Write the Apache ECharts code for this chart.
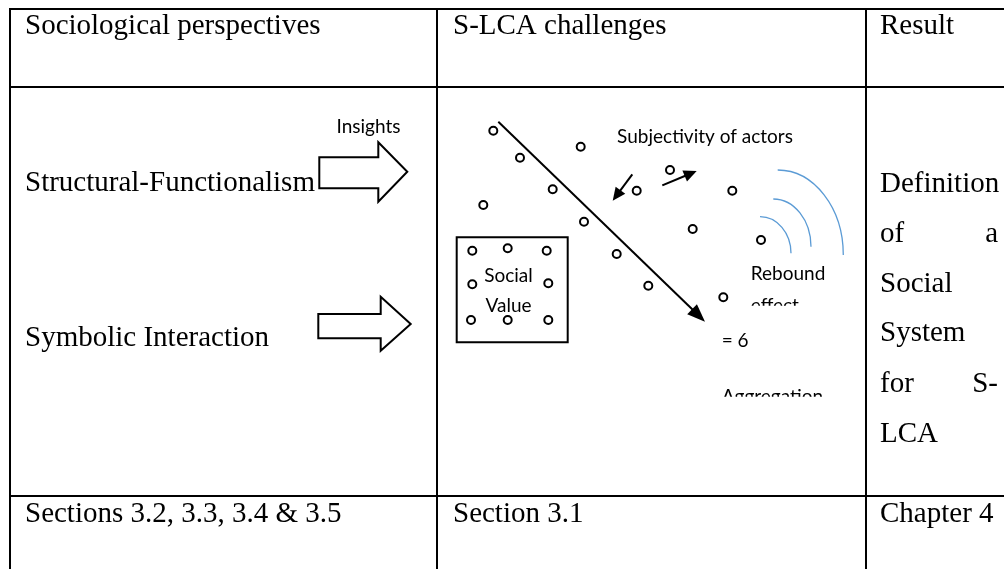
<!DOCTYPE html>
<html><head><meta charset="utf-8">
<script src="https://cdn.jsdelivr.net/npm/echarts@6/dist/echarts.min.js"></script>
<style>html,body{margin:0;padding:0;background:#fff}#c{width:1004px;height:569px}</style>
</head><body><div id="c"></div>
<script>
// ---- diagram data (diagram units = axis units) ----
const colEdges = [10, 437, 866, 1012];
const rowEdges = [9, 87, 496, 580];

// serif texts: [x, baseline, text]
const serifLeft = [
  [25, 35, 'Sociological perspectives'],
  [453, 35, 'S-LCA challenges'],
  [880, 35, 'Result'],
  [25, 192, 'Structural-Functionalism'],
  [25, 347, 'Symbolic Interaction'],
  [880, 193, 'Definition'],
  [880, 243, 'of'],
  [880, 293, 'Social'],
  [880, 342, 'System'],
  [880, 393, 'for'],
  [880, 443, 'LCA'],
  [25, 523, 'Sections 3.2, 3.3, 3.4 & 3.5'],
  [453, 523, 'Section 3.1'],
  [880, 523, 'Chapter 4']
];
const serifRight = [
  [998, 243, 'a'],
  [998, 393, 'S-']
];
// sans texts
const sansCenter = [
  [368.5, 133, 'Insights'],
  [705, 143.3, 'Subjectivity of actors'],
  [508.5, 281.7, 'Social'],
  [508.5, 312.3, 'Value']
];
const sansLeft = [
  [750.7, 280, 'Rebound'],
  [750.7, 312, 'effect'],
  [721.7, 346.7, '= 6'],
  [721.7, 403.5, 'Aggregation']
];

// actors (small circles)
const dots = [
  [493.3,130.7],[520,157.7],[580.7,146.7],[552.7,189.3],[483.3,205],[584,221.7],
  [616.7,254],[648.3,285.7],[636.7,190.7],[670,170],[732.3,190.7],[692.7,229],
  [761,240],[723.3,297.3],
  [472.3,250.7],[507.7,248.3],[546.7,250.7],[472.3,284.3],[548.3,283.3],
  [471,320],[507.7,320],[548.3,320]
];
// social value box: [x1, y1, x2, y2]
const valueBox = [[456.7, 237.3, 567.7, 342.3]];
// block arrows: [tailX, shaftTop, shaftBottom, neckX, headTop, headBottom, tipX, tipY]
const blockArrows = [
  [319.3, 157.3, 188.3, 378.3, 142.3, 201.7, 407.3, 171.7],
  [318.3, 314, 338.3, 380.7, 296.7, 350.7, 410.7, 324]
];
// line arrows: [x1, y1, x2(tip), y2(tip)]
const lineArrows = [
  [498.3, 121.7, 705, 321.7],
  [632.3, 174.3, 612.7, 200.7],
  [662.3, 185.3, 696.7, 171]
];
// rebound arcs (quarter ellipses): [cx, cy, rx, ry]
const reboundArcs = [
  [760, 253.3, 31, 36.6],
  [773.3, 246.7, 37.7, 47.7],
  [777.7, 255, 65.6, 85]
];
// clipped text-box regions: [x1, y1, x2, y2]
const clipMasks = [
  [742, 305.7, 840, 330],
  [712, 396.7, 840, 430]
];

// ---- styles ----
const SERIF = '"Liberation Serif", "Times New Roman", serif';
const SANS = 'Lato, "Open Sans", sans-serif';
const SERIF_SIZE = 29, SANS_SIZE = 19;
const SERIF_MID = 0.305, SANS_MID = 0.3225;
const HEADS = [[18, 14], [13, 12], [13, 12]];

function textSeries(rows, family, size, mid, align, z) {
  return {
    type: 'custom', coordinateSystem: 'cartesian2d', z: z, silent: true, clip: false,
    data: rows.map(r => [r[0], r[1]]),
    renderItem: function (params, api) {
      const p = api.coord([api.value(0), api.value(1)]);
      return {
        type: 'text', x: p[0], y: p[1] - size * mid,
        style: { text: rows[params.dataIndex][2], fontFamily: family, fontSize: size,
                 fill: '#000', align: align, verticalAlign: 'middle' }
      };
    }
  };
}

const tableSegs = [];
rowEdges.forEach(y => tableSegs.push([colEdges[0] - 1, y, colEdges[colEdges.length - 1], y]));
colEdges.forEach(x => tableSegs.push([x, rowEdges[0] - 1, x, rowEdges[rowEdges.length - 1]]));

const chart = echarts.init(document.getElementById('c'), null, { renderer: 'canvas' });
chart.setOption({
  animation: false,
  backgroundColor: '#fff',
  grid: { left: 0, right: 0, top: 0, bottom: 0 },
  xAxis: { type: 'value', min: 0, max: 1004, show: false },
  yAxis: { type: 'value', min: 0, max: 569, inverse: true, show: false },
  series: [
    { // table rules
      type: 'custom', coordinateSystem: 'cartesian2d', z: 1, silent: true, clip: false,
      data: tableSegs,
      renderItem: function (params, api) {
        const a = api.coord([api.value(0), api.value(1)]);
        const b = api.coord([api.value(2), api.value(3)]);
        return { type: 'line', shape: { x1: a[0], y1: a[1], x2: b[0], y2: b[1] },
                 style: { stroke: '#000', lineWidth: 2 } };
      }
    },
    { // block arrows
      type: 'custom', coordinateSystem: 'cartesian2d', z: 2, silent: true,
      data: blockArrows,
      renderItem: function (params, api) {
        const v = i => api.value(i);
        const pts = [
          [v(0), v(1)], [v(3), v(1)], [v(3), v(4)], [v(6), v(7)],
          [v(3), v(5)], [v(3), v(2)], [v(0), v(2)]
        ].map(q => api.coord(q));
        return { type: 'polygon', shape: { points: pts },
                 style: { fill: '#fff', stroke: '#000', lineWidth: 2, lineJoin: 'miter' } };
      }
    },
    { // value box
      type: 'custom', coordinateSystem: 'cartesian2d', z: 2, silent: true,
      data: valueBox,
      renderItem: function (params, api) {
        const a = api.coord([api.value(0), api.value(1)]);
        const b = api.coord([api.value(2), api.value(3)]);
        return { type: 'rect', shape: { x: a[0], y: a[1], width: b[0] - a[0], height: b[1] - a[1] },
                 style: { fill: 'none', stroke: '#000', lineWidth: 2 } };
      }
    },
    { // line arrows
      type: 'custom', coordinateSystem: 'cartesian2d', z: 3, silent: true,
      data: lineArrows,
      renderItem: function (params, api) {
        const a = api.coord([api.value(0), api.value(1)]);
        const b = api.coord([api.value(2), api.value(3)]);
        const hs = HEADS[params.dataIndex];
        const dx = b[0] - a[0], dy = b[1] - a[1], L = Math.hypot(dx, dy);
        const ux = dx / L, uy = dy / L, nx = -uy, ny = ux;
        const bx = b[0] - ux * hs[0], by = b[1] - uy * hs[0];
        return { type: 'group', children: [
          { type: 'line', shape: { x1: a[0], y1: a[1], x2: bx + ux * 2, y2: by + uy * 2 },
            style: { stroke: '#000', lineWidth: 2 } },
          { type: 'polygon', shape: { points: [b, [bx + nx * hs[1] / 2, by + ny * hs[1] / 2], [bx - nx * hs[1] / 2, by - ny * hs[1] / 2]] },
            style: { fill: '#000' } }
        ] };
      }
    },
    { // rebound arcs
      type: 'custom', coordinateSystem: 'cartesian2d', z: 3, silent: true,
      data: reboundArcs,
      renderItem: function (params, api) {
        const cx = api.value(0), cy = api.value(1), rx = api.value(2), ry = api.value(3);
        const k = 0.5523;
        const s = api.coord([cx, cy - ry]), e = api.coord([cx + rx, cy]);
        const c1 = api.coord([cx + k * rx, cy - ry]), c2 = api.coord([cx + rx, cy - k * ry]);
        return { type: 'bezierCurve', shape: { x1: s[0], y1: s[1], x2: e[0], y2: e[1],
                 cpx1: c1[0], cpy1: c1[1], cpx2: c2[0], cpy2: c2[1] },
                 style: { fill: 'none', stroke: '#5B9BD5', lineWidth: 1.3 } };
      }
    },
    { // actors
      type: 'scatter', z: 4, silent: true, data: dots, symbol: 'circle', symbolSize: 8,
      itemStyle: { color: '#fff', borderColor: '#000', borderWidth: 2, opacity: 1 }
    },
    textSeries(serifLeft, SERIF, SERIF_SIZE, SERIF_MID, 'left', 5),
    textSeries(serifRight, SERIF, SERIF_SIZE, SERIF_MID, 'right', 5),
    textSeries(sansCenter, SANS, SANS_SIZE, SANS_MID, 'center', 5),
    textSeries(sansLeft, SANS, SANS_SIZE, SANS_MID, 'left', 5),
    { // text-box clipping masks
      type: 'custom', coordinateSystem: 'cartesian2d', z: 6, silent: true,
      data: clipMasks,
      renderItem: function (params, api) {
        const a = api.coord([api.value(0), api.value(1)]);
        const b = api.coord([api.value(2), api.value(3)]);
        return { type: 'rect', shape: { x: a[0], y: a[1], width: b[0] - a[0], height: b[1] - a[1] },
                 style: { fill: '#fff' } };
      }
    }
  ]
});
</script>
</body></html>
